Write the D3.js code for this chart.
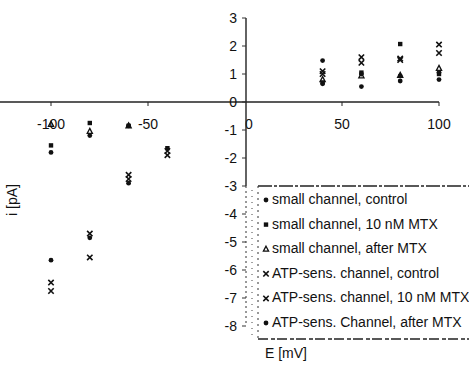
<!DOCTYPE html>
<html>
<head>
<meta charset="utf-8">
<script src="https://cdn.jsdelivr.net/npm/d3@7"></script>
<style>
  body { margin: 0; background: #fff; }
  text { font-family: "Liberation Sans", Arial, sans-serif; fill: #111; }
</style>
</head>
<body>
<div id="svgContainer"></div>
<script>
var width = 469;
var height = 365;

// membrane potential (mV)
var voltages = [-100, -80, -60, -40, 40, 60, 80, 100];

// current values (pA)
var smallControl = [-1.8, -1.2, -0.85, null, 0.65, 0.55, 0.75, 0.8];
var small10MTX   = [-1.55, -0.75, -0.85, -1.65, 0.7, 1.05, 2.07, 1.0];
var smallAfter   = [-0.8, -1.05, -0.85, null, 0.8, 0.93, 0.95, 1.2];
var atpControl   = [-6.45, -4.7, -2.6, -1.9, 1.1, 1.6, 1.5, 2.05];
var atp10MTX     = [-6.75, -5.55, -2.75, -1.75, 1.0, 1.4, 1.55, 1.75];
var atpAfter     = [-5.65, -4.85, -2.9, null, 1.48, 1.0, 0.93, 1.05];

var seriesNames = ["small channel, control", "small channel, 10 nM MTX", "small channel, after MTX",
                   "ATP-sens. channel, control", "ATP-sens. channel, 10 nM MTX", "ATP-sens. Channel, after MTX"];
var seriesValues = [smallControl, small10MTX, smallAfter, atpControl, atp10MTX, atpAfter];
var seriesMarks = ["dot", "square", "triangle", "cross", "cross", "dot"];

var yTicks = [3, 2, 1, 0, -1, -2, -3, -4, -5, -6, -7, -8];
var xTicks = [-100, -50, 0, 50, 100];

var svg = d3.select("#svgContainer").append("svg").attr("width", width).attr("height", height);

var x = d3.scaleLinear().domain([-100, 100]).range([51, 439]);
var y = d3.scaleLinear().domain([-8, 3]).range([326, 18]);

var axisX = 246;
var axisY = y(0);

// x axis line
svg.append("line")
  .attr("x1", 0).attr("x2", x(100)).attr("y1", axisY).attr("y2", axisY)
  .attr("stroke", "#222").attr("stroke-width", 1.4);

svg.selectAll(".xtick")
  .data(xTicks.filter(d => d != 0))
  .join("line")
  .attr("x1", d => x(d)).attr("x2", d => x(d))
  .attr("y1", axisY).attr("y2", axisY + 4)
  .attr("stroke", "#222");

svg.selectAll(".xlab")
  .data(xTicks)
  .join("text")
  .attr("x", d => d == 0 ? axisX + 3 : x(d))
  .attr("y", axisY + 27)
  .attr("text-anchor", "middle")
  .style("font-size", "14px")
  .text(d => d);

// y axis: solid top part, dotted below -3
svg.append("line")
  .attr("x1", axisX).attr("x2", axisX).attr("y1", y(3)).attr("y2", y(-3))
  .attr("stroke", "#222").attr("stroke-width", 1.4);
svg.append("line")
  .attr("x1", axisX).attr("x2", axisX).attr("y1", y(-3)).attr("y2", y(-8))
  .attr("stroke", "#333").attr("stroke-width", 1).attr("stroke-dasharray", "2,3");

svg.selectAll(".ytick")
  .data(yTicks)
  .join("line")
  .attr("x1", axisX - 4).attr("x2", axisX)
  .attr("y1", d => y(d)).attr("y2", d => y(d))
  .attr("stroke", "#333");

svg.selectAll(".ylab")
  .data(yTicks)
  .join("text")
  .attr("x", axisX - 9)
  .attr("y", d => y(d) + 5)
  .attr("text-anchor", "end")
  .style("font-size", "14px")
  .text(d => d);

// axis titles
svg.append("text")
  .attr("transform", "translate(17," + 200 + ") rotate(-90)")
  .attr("text-anchor", "middle")
  .style("font-size", "14px")
  .text("i [pA]");

svg.append("text")
  .attr("x", 265).attr("y", 358)
  .style("font-size", "14px")
  .text("E [mV]");

function drawMark(g, type, cx, cy) {
  if (type == "dot") {
    g.append("circle").attr("cx", cx).attr("cy", cy).attr("r", 2.4).attr("fill", "#111");
  } else if (type == "square") {
    g.append("rect").attr("x", cx - 2.2).attr("y", cy - 2.2).attr("width", 4.4).attr("height", 4.4).attr("fill", "#111");
  } else if (type == "triangle") {
    g.append("path")
      .attr("d", "M" + cx + "," + (cy - 3) + "L" + (cx + 2.6) + "," + (cy + 2) + "L" + (cx - 2.6) + "," + (cy + 2) + "Z")
      .attr("fill", "none").attr("stroke", "#111").attr("stroke-width", 1.3);
  } else {
    g.append("path")
      .attr("d", "M" + (cx - 2.7) + "," + (cy - 2.7) + "L" + (cx + 2.7) + "," + (cy + 2.7) +
                 "M" + (cx + 2.7) + "," + (cy - 2.7) + "L" + (cx - 2.7) + "," + (cy + 2.7))
      .attr("stroke", "#111").attr("stroke-width", 1.6);
  }
}

// data points
var pts = svg.append("g").attr("id", "pointContainer");
seriesValues.forEach((vals, s) => {
  vals.forEach((v, i) => {
    if (v == null) return;
    drawMark(pts, seriesMarks[s], x(voltages[i]), y(v));
  });
});

// legend
var leg = svg.append("g").attr("id", "legend");
var legTop = 186, legBottom = 339, legLeft = 258;
leg.append("line").attr("x1", legLeft).attr("x2", width).attr("y1", legTop).attr("y2", legTop)
  .attr("stroke", "#222").attr("stroke-width", 1.3).attr("stroke-dasharray", "14,2,3,2");
leg.append("line").attr("x1", legLeft).attr("x2", width).attr("y1", legBottom).attr("y2", legBottom)
  .attr("stroke", "#222").attr("stroke-width", 1.3).attr("stroke-dasharray", "10,3,4,2");
leg.append("line").attr("x1", legLeft).attr("x2", legLeft).attr("y1", legTop).attr("y2", legBottom)
  .attr("stroke", "#333").attr("stroke-dasharray", "2,4");
leg.append("line").attr("x1", 252).attr("x2", 252).attr("y1", legTop + 4).attr("y2", legBottom - 4)
  .attr("stroke", "#444").attr("stroke-dasharray", "1,5");

seriesNames.forEach((name, i) => {
  var ly = 199 + i * 24.6;
  drawMark(leg, seriesMarks[i], 266, ly + 1);
  leg.append("text")
    .attr("x", 272).attr("y", ly + 5)
    .style("font-size", "14px")
    .text(name);
});
</script>
</body>
</html>
